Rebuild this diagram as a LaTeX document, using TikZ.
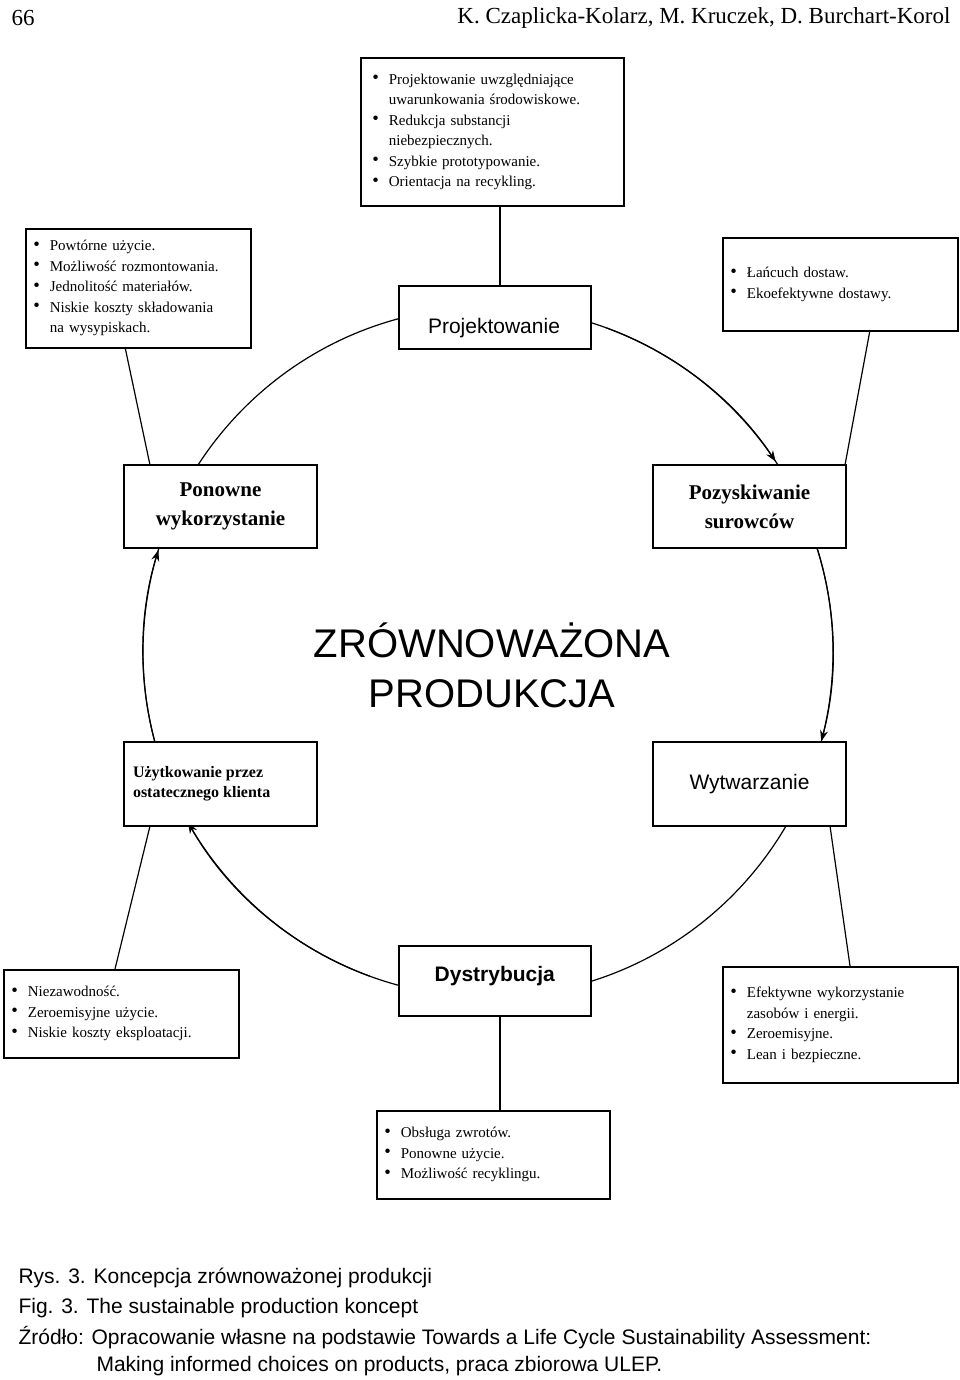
\documentclass[tikz,border=0pt]{standalone}
\usepackage{fontspec}
\setmainfont{Liberation Serif}
\newfontfamily\sans{Liberation Sans}
\usetikzlibrary{arrows.meta}
\newcommand{\bul}{\raisebox{0.5pt}{\scalebox{1.25}{\textbullet}}\ \ }
\begin{document}
\begin{tikzpicture}[x=1pt,y=-1pt,
 box/.style={draw,line width=1.6pt,fill=white,inner sep=4pt},
 lst/.style={box,align=left,font=\fontsize{15}{20.5}\selectfont,anchor=north west,inner sep=6pt},
 ttl/.style={box,align=center,font=\fontsize{21}{29}\selectfont\bfseries},
 ln/.style={line width=1.2pt},
 arr/.style={line width=1.2pt,-{Stealth[length=11pt,width=8pt]}}]
\useasboundingbox (0,0) rectangle (960,1380);
\node[anchor=west,font=\fontsize{23}{26}\selectfont] (pg) at (8,18) {66};
\node[anchor=east,font=\fontsize{23}{26}\selectfont] (hd) at (954,18) {K. Czaplicka-Kolarz, M. Kruczek, D. Burchart-Korol};
% circle
\draw[ln] (488,652) circle (345);
\draw[arr] (488,652) ++(-70:345) arc (-70:-33.5:345);
\draw[arr] (488,652) ++(-20:345) arc (-20:15:345);
\draw[arr] (488,652) ++(110:345) arc (110:150.4:345);
\draw[arr] (488,652) ++(165:345) arc (165:197.2:345);
% boxes
\node[lst,minimum width=263pt,minimum height=148pt,text width=240pt] (t) at (360,57) {%
\bul Projektowanie uwzględniające\\ \phantom{\bul}uwarunkowania środowiskowe.\\
\bul Redukcja substancji\\ \phantom{\bul}niebezpiecznych.\\
\bul Szybkie prototypowanie.\\ \bul Orientacja na recykling.};
\node[lst,minimum width=225pt,minimum height=119pt,text width=210pt] (tl) at (25,228) {%
\bul Powtórne użycie.\\ \bul Możliwość rozmontowania.\\ \bul Jednolitość materiałów.\\
\bul Niskie koszty składowania\\ \phantom{\bul}na wysypiskach.};
\node[lst,minimum width=235pt,minimum height=93pt,text width=220pt] (tr) at (722,237) {%
\bul Łańcuch dostaw.\\ \bul Ekoefektywne dostawy.};
\node[box,minimum width=192pt,minimum height=63pt,anchor=north west] (pr) at (398,285) {};
\node[font=\sans\fontsize{21}{25}\selectfont] (prt) at (494,328) {Projektowanie};
\node[ttl,minimum width=193pt,minimum height=83pt] (po) at (220.5,506.5) {Ponowne\\wykorzystanie};
\node[ttl,minimum width=193pt,minimum height=83pt] (ps) at (749.5,506.5) {Pozyskiwanie\\surowców};
\node[font=\sans\fontsize{40}{50}\selectfont,align=center] (zp) at (492,665) {ZRÓWNOWAŻONA\\PRODUKCJA};
\node[box,minimum width=193pt,minimum height=84pt,align=left,font=\fontsize{16}{20}\selectfont\bfseries] (uz) at (220.5,784) {\raisebox{12pt}{\parbox{175pt}{Użytkowanie przez\\ostatecznego klienta}}};
\node[box,minimum width=193pt,minimum height=84pt,font=\sans\fontsize{21}{25}\selectfont] (wy) at (749.5,784) {\raisebox{-4pt}{Wytwarzanie}};
\node[lst,minimum width=235pt,minimum height=88pt,text width=220pt] (ni) at (3,969) {%
\bul Niezawodność.\\ \bul Zeroemisyjne użycie.\\ \bul Niskie koszty eksploatacji.};
\node[box,minimum width=192pt,minimum height=70pt,anchor=north west,font=\sans\bfseries\fontsize{21}{25}\selectfont] (dy) at (398,945) {\raisebox{14pt}{Dystrybucja}};
\node[lst,minimum width=235pt,minimum height=116pt,text width=220pt] (ef) at (722,966) {%
\bul Efektywne wykorzystanie\\ \phantom{\bul}zasobów i energii.\\ \bul Zeroemisyjne.\\ \bul Lean i bezpieczne.};
\node[lst,minimum width=233pt,minimum height=88pt,text width=218pt] (ob) at (376,1110) {%
\bul Obsługa zwrotów.\\ \bul Ponowne użycie.\\ \bul Możliwość recyklingu.};
% connectors
\draw[ln] (t.south -| 500,0) -- (pr.north -| 500,0);
\draw[ln] (125,347) -- (150,465);
\draw[ln] (870,330) -- (845,465);
\draw[ln] (150,826) -- (115,969);
\draw[ln] (830,826) -- (850,966);
\draw[ln] (dy.south -| 500,0) -- (ob.north -| 500,0);
% caption
\begin{scope}[every node/.style={anchor=west,font=\sans\fontsize{21}{25}\selectfont}]
\node (c1) at (15,1278) {Rys. 3. Koncepcja zrównoważonej produkcji};
\node (c2) at (15,1308) {Fig. 3. The sustainable production koncept};
\node (c3) at (15,1338) {Źródło: Opracowanie własne na podstawie Towards a Life Cycle Sustainability Assessment:};
\node (c4) at (93,1366) {Making informed choices on products, praca zbiorowa ULEP.};
\end{scope}
\end{tikzpicture}
\end{document}
